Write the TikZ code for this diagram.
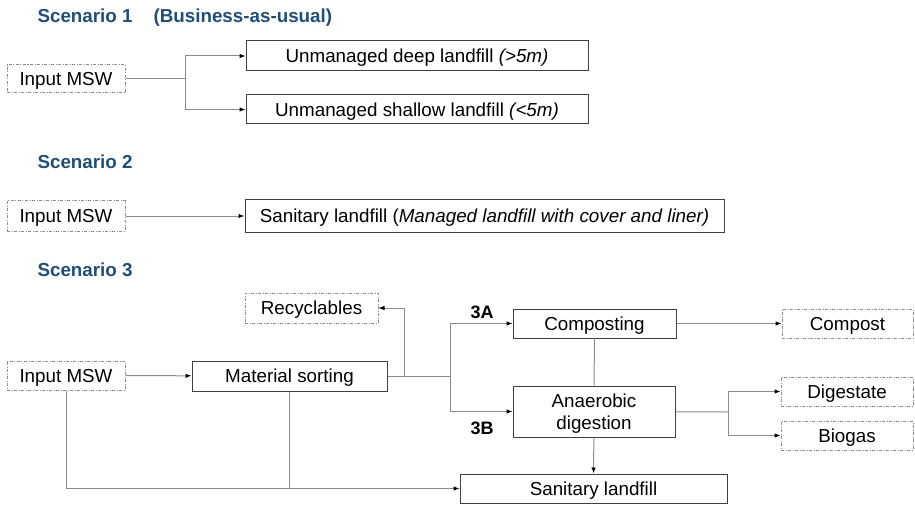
\documentclass[tikz,border=0pt]{standalone}
\usepackage{fontspec}
\setmainfont{Liberation Sans}
\usetikzlibrary{arrows.meta, positioning, calc}
\definecolor{headblue}{HTML}{1F4E79}
\definecolor{edgegray}{HTML}{404040}
\definecolor{wiregray}{HTML}{8C8C8C}

\begin{document}
\begin{tikzpicture}[x=1pt, y=-1pt,
    every node/.style={font=\fontsize{18.8}{22}\selectfont, text depth=0pt},
    title/.style={font=\fontsize{18.8}{22}\selectfont\bfseries, text=headblue, anchor=west},
    tag/.style={font=\fontsize{18}{21}\selectfont\bfseries},
    box/.style={rectangle, draw=edgegray, line width=1pt, inner sep=0pt},
    io/.style={rectangle, draw=wiregray, line width=1pt, inner sep=0pt,
               dash pattern=on 3pt off 1.5pt on 1pt off 1.5pt},
    wire/.style={draw=wiregray, line width=1pt},
    arr/.style={wire, -{Latex[length=6pt, width=4.5pt, color=black]}},
]
\useasboundingbox (0,0) rectangle (915,505);

% scenario 1
\node[title] (t1) at (34,16) {Scenario 1};
\node[title] (t1b) at (150,16) {(Business-as-usual)};
\node[io, minimum width=118pt, minimum height=28pt] (in1) at (66,79) {Input MSW};
\node[box, minimum width=342pt, minimum height=30pt] (deep) at (417,56)
    {Unmanaged deep landfill \textit{(>5m)}};
\node[box, minimum width=342pt, minimum height=29pt] (shallow) at (417,109.5)
    {Unmanaged shallow landfill \textit{(<5m)}};
\coordinate (b1) at (185,79);
\draw[wire] (in1) -- (b1);
\draw[arr] (b1) |- (deep);
\draw[arr] (b1) |- (shallow);

% scenario 2
\node[title] (t2) at (34,162) {Scenario 2};
\node[io, minimum width=118pt, minimum height=30pt] (in2) at (66,216) {Input MSW};
\node[box, minimum width=479pt, minimum height=32pt] (san2) at (484.5,216)
    {Sanitary landfill (\textit{Managed landfill with cover and liner)}};
\draw[arr] (in2) -- (san2);

% scenario 3
\node[title] (t3) at (34,270) {Scenario 3};
\node[io, minimum width=133pt, minimum height=30pt] (rec) at (311.5,308) {Recyclables};
\node[io, minimum width=118pt, minimum height=29pt] (in3) at (66,375.5) {Input MSW};
\node[box, minimum width=195pt, minimum height=30pt] (sort) at (289.5,376) {Material sorting};
\node[box, minimum width=163pt, minimum height=29pt] (comp) at (594.5,323.5) {Composting};
\node[box, minimum width=162pt, minimum height=51pt, align=center] (ad) at (594,411.5)
    {Anaerobic\\digestion};
\node[io, minimum width=131pt, minimum height=29pt] (compost) at (847.5,323.5) {Compost};
\node[io, minimum width=132pt, minimum height=29pt] (dig) at (847,391.5) {Digestate};
\node[io, minimum width=132pt, minimum height=29pt] (bio) at (847,435.5) {Biogas};
\node[box, minimum width=267pt, minimum height=29pt] (san3) at (593.5,488.5) {Sanitary landfill};
\node[tag] (l3a) at (482,312) {3A};
\node[tag] (l3b) at (482,428) {3B};

\coordinate (b2) at (404,376);
\coordinate (b3) at (450,376);
\coordinate (b4) at (728,412);
\draw[arr] (in3) -- (sort);
\draw[wire] (sort) -- (b3);
\draw[arr] (b2) |- (rec);
\draw[arr] (b3) |- (comp);
\draw[arr] (b3) |- (ad);
\draw[wire] (comp.south) -- (ad.north);
\draw[arr] (comp) -- (compost);
\draw[wire] (ad) -- (b4);
\draw[arr] (b4) |- (dig);
\draw[arr] (b4) |- (bio);
\draw[arr] (ad) -- (san3);
\draw[arr] (in3.south) |- (san3);
\draw[wire] (sort.south) -- (sort.south |- san3.west);
\end{tikzpicture}
\end{document}
